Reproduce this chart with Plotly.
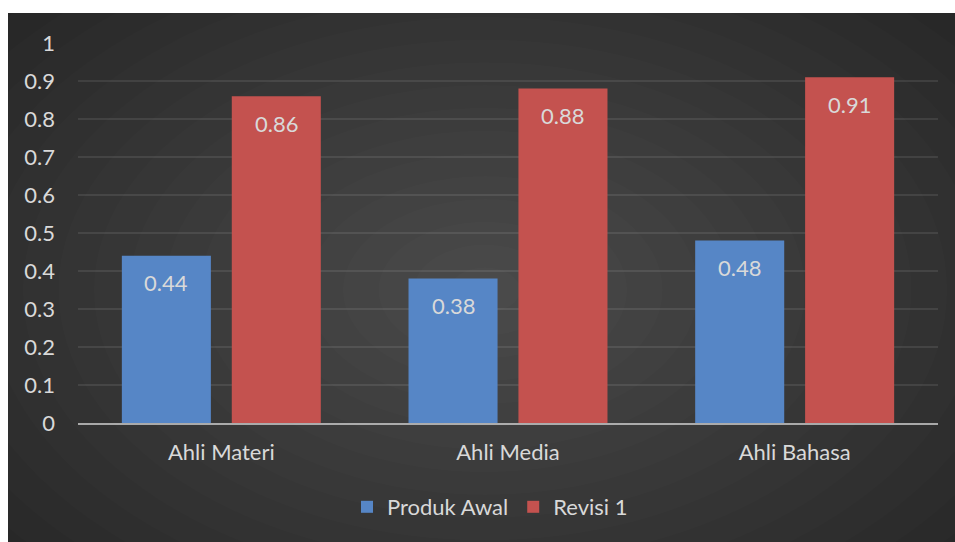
import plotly.graph_objects as go

categories = ["Ahli Materi", "Ahli Media", "Ahli Bahasa"]
produk_awal = [0.44, 0.38, 0.48]
revisi_1 = [0.86, 0.88, 0.91]
series_names = ["Produk Awal", "Revisi 1"]
y_ticks = [0, 0.1, 0.2, 0.3, 0.4, 0.5, 0.6, 0.7, 0.8, 0.9, 1]
y_tick_labels = ["0", "0.1", "0.2", "0.3", "0.4", "0.5", "0.6", "0.7", "0.8", "0.9", "1"]

W, H = 955, 542
L, R, T, B = 78, 938, 43, 423  # plot area in px
FONT = "Lato"
FS = 22
TXT = "#d9d9d9"
BLUE = "#5686c6"
RED = "#c4524f"

def px_x(px):
    return (px - L) / (R - L)

def px_y(py):
    return (B - py) / (B - T)

fig = go.Figure()
fig.add_trace(go.Bar(name=series_names[0], x=categories, y=produk_awal,
                     marker=dict(color=BLUE, line=dict(width=0))))
fig.add_trace(go.Bar(name=series_names[1], x=categories, y=revisi_1,
                     marker=dict(color=RED, line=dict(width=0))))

bargap = 0.233
bargroupgap = 0.19
offset = (1 - bargap) / 4

annotations = []
for i, (a, b) in enumerate(zip(produk_awal, revisi_1)):
    for val, dx in ((a, -offset), (b, offset)):
        annotations.append(dict(x=i + dx, y=val, xref="x", yref="y",
                                text=f"{val:g}", showarrow=False,
                                yanchor="middle", yshift=-27,
                                font=dict(family=FONT, size=FS, color=TXT)))

shapes = [dict(type="rect", xref="paper", yref="paper",
               x0=px_x(8), x1=px_x(956), y0=px_y(543), y1=px_y(13),
               fillcolor="#262626", line=dict(width=0), layer="below")]
# radial-ish glow approximated by concentric translucent ellipses
cx, cy = 485, 290
n = 18
for k in range(n):
    f = 1 - k / n
    rx, ry = 640 * f, 410 * f
    shapes.append(dict(type="circle", xref="paper", yref="paper",
                       x0=px_x(cx - rx), x1=px_x(cx + rx),
                       y0=px_y(cy + ry), y1=px_y(cy - ry),
                       fillcolor="rgba(255,255,255,0.0115)",
                       line=dict(width=0), layer="below"))

fig.update_layout(
    width=W, height=H,
    margin=dict(l=L, r=W - R, t=T, b=H - B),
    paper_bgcolor="white",
    plot_bgcolor="rgba(0,0,0,0)",
    barmode="group", bargap=bargap, bargroupgap=bargroupgap,
    font=dict(family=FONT, size=FS, color=TXT),
    showlegend=True,
    legend=dict(orientation="h", x=px_x(490), xanchor="center",
                y=px_y(507), yanchor="middle",
                font=dict(family=FONT, size=FS, color=TXT),
                bgcolor="rgba(0,0,0,0)", traceorder="normal"),
    shapes=shapes,
    annotations=annotations,
    xaxis=dict(type="category", showgrid=False, showline=True,
               linecolor="rgba(210,210,210,0.75)", linewidth=2,
               ticks="", ticklabelstandoff=9,
               tickfont=dict(family=FONT, size=FS, color=TXT),
               fixedrange=True),
    yaxis=dict(range=[0, 1], tickvals=y_ticks, ticktext=y_tick_labels,
               showgrid=True, gridcolor="rgba(255,255,255,0.09)", gridwidth=2,
               zeroline=False, showline=False, ticks="",
               ticklabelstandoff=22,
               tickfont=dict(family=FONT, size=FS, color=TXT),
               fixedrange=True),
)

fig.write_html("out.html", config={"displayModeBar": False})
